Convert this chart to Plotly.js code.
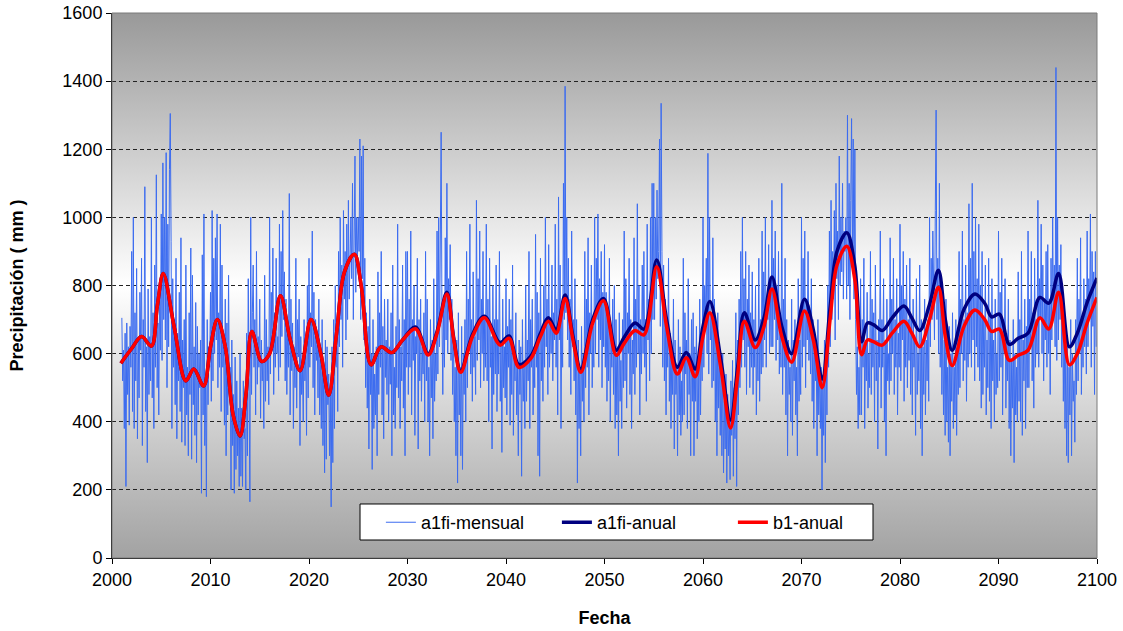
<!DOCTYPE html>
<html>
<head>
<meta charset="utf-8">
<script src="https://cdn.plot.ly/plotly-3.0.1.min.js"></script>
<style>html,body{margin:0;padding:0;background:#fff;}#chart{width:1123px;height:631px;}</style>
</head>
<body>
<div id="chart"></div>
<script>
// ---- DATA ----
const seriesNames = ["a1fi-mensual", "a1fi-anual", "b1-anual"];
const monthlyStartYear = 2001;
const a1fiMensual = [
/*2001*/ 705,520,610,380,660,210,690,480,620,390,680,560,
/*2002*/ 900,430,1000,380,720,520,850,350,640,470,780,610,
/*2003*/ 880,330,700,560,1090,430,620,280,790,480,650,520,
/*2004*/ 1000,470,720,380,860,560,1125,500,690,420,800,610,
/*2005*/ 1010,580,1160,700,1000,640,1190,500,980,620,1140,1305,
/*2006*/ 930,380,820,560,700,450,880,350,660,520,780,430,
/*2007*/ 940,340,640,500,700,330,860,420,560,300,720,480,
/*2008*/ 910,290,830,450,620,360,750,280,680,420,600,500,
/*2009*/ 640,190,890,420,1010,330,520,180,700,450,620,560,
/*2010*/ 780,460,1020,520,880,600,940,640,1010,500,720,560,
/*2011*/ 980,430,860,560,620,390,760,300,690,420,830,480,
/*2012*/ 560,200,640,330,480,190,590,260,520,300,440,210,
/*2013*/ 600,240,440,210,520,350,380,200,660,300,820,420,
/*2014*/ 165,1000,480,720,860,560,700,420,900,510,650,560,
/*2015*/ 760,410,640,520,580,380,830,460,700,520,620,450,
/*2016*/ 1000,540,780,610,910,480,720,560,880,600,650,520,
/*2017*/ 980,560,900,650,1020,700,840,520,760,480,690,560,
/*2018*/ 1070,420,760,550,690,380,620,500,880,440,700,590,
/*2019*/ 760,330,650,480,560,400,700,520,620,360,800,470,
/*2020*/ 880,560,720,620,960,500,780,420,700,580,650,470,
/*2021*/ 760,420,600,380,700,330,560,250,640,290,620,450,
/*2022*/ 540,300,480,150,620,280,700,380,800,560,680,430,
/*2023*/ 900,620,1000,700,860,560,1020,760,900,640,980,700,
/*2024*/ 1050,760,900,1000,820,1100,700,920,1180,780,1000,880,
/*2025*/ 1000,900,1230,700,1180,820,1210,640,880,500,720,440,
/*2026*/ 680,320,760,480,600,260,700,380,540,420,620,300,
/*2027*/ 840,480,720,560,900,420,680,350,760,530,640,480,
/*2028*/ 760,400,620,510,720,300,860,420,560,380,680,500,
/*2029*/ 980,470,700,380,620,520,860,440,700,300,900,560,
/*2030*/ 900,480,760,560,960,420,700,580,800,360,650,600,
/*2031*/ 880,320,700,520,760,460,620,540,720,400,900,520,
/*2032*/ 760,400,560,300,700,470,640,350,820,460,600,520,
/*2033*/ 960,540,1000,620,880,1250,700,480,760,560,940,640,
/*2034*/ 1100,600,820,700,920,580,760,480,680,400,560,300,
/*2035*/ 640,220,720,420,560,300,680,260,600,480,700,400,
/*2036*/ 900,500,760,620,980,540,700,460,840,560,650,480,
/*2037*/ 1050,580,820,640,960,500,760,600,900,520,700,560,
/*2038*/ 980,520,760,400,880,560,650,320,800,480,700,540,
/*2039*/ 860,430,700,540,900,460,640,310,760,500,620,470,
/*2040*/ 820,420,680,560,760,390,700,480,860,360,600,520,
/*2041*/ 720,420,560,300,640,480,620,240,700,460,580,380,
/*2042*/ 800,460,640,520,900,380,700,560,760,420,620,500,
/*2043*/ 950,560,780,300,720,240,880,520,680,460,800,560,
/*2044*/ 1000,620,760,480,920,560,700,600,860,520,720,640,
/*2045*/ 980,560,760,420,1060,640,860,380,720,560,1100,700,
/*2046*/ 1385,720,1000,640,880,560,760,480,960,620,700,520,
/*2047*/ 820,420,700,220,640,380,560,300,680,460,600,400,
/*2048*/ 900,500,760,560,940,420,720,600,860,500,680,560,
/*2049*/ 1000,600,880,700,1010,560,820,640,900,500,780,620,
/*2050*/ 920,560,780,460,700,520,880,400,640,560,760,480,
/*2051*/ 800,380,700,420,620,300,720,460,580,380,700,500,
/*2052*/ 960,520,820,440,720,600,880,480,700,380,640,540,
/*2053*/ 940,480,760,560,1040,600,800,420,700,540,860,600,
/*2054*/ 900,560,700,460,980,640,760,520,1000,600,1100,700,
/*2055*/ 1100,700,1000,760,1080,820,900,1230,680,1335,900,560,
/*2056*/ 860,520,760,420,700,560,880,460,660,380,620,480,
/*2057*/ 760,320,640,480,560,300,700,420,620,360,520,400,
/*2058*/ 880,420,720,540,640,380,820,480,600,300,700,460,
/*2059*/ 720,300,620,460,680,350,560,400,760,420,640,520,
/*2060*/ 1000,560,800,700,880,600,1188,540,1000,640,720,500,
/*2061*/ 940,520,760,400,680,300,720,440,600,360,560,300,
/*2062*/ 600,250,460,320,540,220,480,300,420,230,520,360,
/*2063*/ 580,240,500,350,720,210,640,420,760,500,900,560,
/*2064*/ 1000,640,820,560,900,480,760,620,860,500,720,560,
/*2065*/ 840,480,700,560,800,420,640,520,880,460,700,540,
/*2066*/ 960,560,840,640,1000,560,760,700,920,600,800,620,
/*2067*/ 1050,620,880,700,960,580,800,640,900,540,720,560,
/*2068*/ 1100,480,760,560,880,420,700,300,640,480,560,400,
/*2069*/ 760,360,640,520,700,420,560,300,820,460,640,480,
/*2070*/ 1000,560,880,620,960,500,760,640,900,580,700,540,
/*2071*/ 820,460,700,380,640,520,600,300,700,420,560,380,
/*2072*/ 560,200,520,360,640,280,600,420,800,560,960,620,
/*2073*/ 1050,700,900,760,1020,640,1100,820,960,700,1180,800,
/*2074*/ 1000,840,1100,760,960,900,1000,760,1300,800,1100,700,
/*2075*/ 1050,1290,880,1230,760,1200,700,480,620,380,560,420,
/*2076*/ 820,420,700,560,880,380,640,520,780,440,600,500,
/*2077*/ 900,480,760,560,720,400,860,520,640,320,700,560,
/*2078*/ 960,440,700,560,820,400,640,300,760,520,600,480,
/*2079*/ 940,520,760,600,880,480,700,560,820,420,660,560,
/*2080*/ 980,520,800,640,900,460,760,560,860,500,700,580,
/*2081*/ 880,480,700,420,760,560,640,360,820,480,600,520,
/*2082*/ 860,380,700,300,620,480,760,420,640,520,700,460,
/*2083*/ 1000,620,880,700,960,760,640,1020,1315,700,880,600,
/*2084*/ 1100,560,820,480,700,420,640,360,760,400,560,340,
/*2085*/ 680,300,600,460,720,380,560,420,700,360,640,480,
/*2086*/ 900,500,760,600,960,520,700,580,860,460,720,560,
/*2087*/ 1040,600,880,560,1100,640,900,520,1000,620,820,560,
/*2088*/ 980,520,800,440,900,480,700,560,860,420,640,500,
/*2089*/ 880,460,720,380,820,520,640,400,760,480,600,500,
/*2090*/ 960,520,780,560,880,420,700,600,820,440,660,520,
/*2091*/ 760,380,640,300,580,440,700,280,600,420,560,400,
/*2092*/ 840,460,700,400,900,360,640,520,760,380,680,500,
/*2093*/ 960,500,760,620,900,520,720,440,880,560,700,600,
/*2094*/ 1050,560,820,700,980,600,860,520,760,640,900,560,
/*2095*/ 920,600,760,480,880,640,1000,700,860,620,1440,580,
/*2096*/ 1000,640,860,700,920,560,780,460,700,380,600,300,
/*2097*/ 640,280,560,420,700,300,600,460,520,340,700,480,
/*2098*/ 880,520,760,600,940,480,700,560,820,620,760,540,
/*2099*/ 960,620,820,700,1010,560,900,680,840,480,900,620
];

const annualYears = [2000.9,2002.0,2003.0,2004.0,2004.6,2005.2,2006.3,2007.5,2008.3,2009.3,
 2010.0,2010.7,2011.5,2012.3,2013.0,2013.6,2014.2,2015.2,2016.0,2017.1,
 2018.1,2019.1,2020.2,2021.2,2022.0,2022.8,2023.6,2024.6,2025.3,2026.3,
 2027.3,2028.4,2029.5,2030.8,2032.1,2033.0,2034.0,2034.7,2035.4,2036.6,
 2037.8,2039.4,2040.3,2041.3,2042.5,2043.5,2044.3,2045.1,2046.0,2046.8,
 2047.6,2048.8,2049.9,2051.2,2052.0,2053.1,2054.0,2055.3,2056.3,2057.4,
 2058.3,2059.2,2060.0,2060.7,2061.8,2062.8,2063.5,2064.2,2065.3,2066.2,
 2067.0,2068.0,2069.0,2070.3,2071.2,2072.1,2072.9,2073.6,2074.6,2075.4,
 2076.1,2076.7,2077.3,2078.2,2079.2,2080.4,2081.2,2082.0,2083.0,2083.9,
 2084.6,2085.3,2086.5,2087.6,2088.6,2089.3,2090.1,2091.1,2092.0,2093.0,
 2094.2,2095.1,2096.1,2097.2,2098.0,2099.0,2100.0];
const b1Anual = [572,615,650,622,740,835,680,520,555,505,
 620,700,620,420,358,480,665,577,600,770,
 640,550,700,600,478,660,840,892,800,567,
 620,603,640,673,596,660,775,640,545,650,
 705,625,645,560,585,650,695,660,762,640,
 545,690,755,595,630,668,655,855,680,540,
 588,532,650,720,560,382,530,695,618,680,
 790,650,575,725,640,500,700,860,915,820,
 597,640,635,625,660,695,660,620,700,795,
 650,565,680,728,700,665,672,580,595,610,
 705,672,780,567,600,690,765];
const a1fiAnual = [572,615,650,622,740,835,680,520,555,505,
 620,700,620,420,358,480,665,577,600,770,
 640,550,700,600,478,660,840,892,800,567,
 620,603,640,678,600,665,780,645,550,656,
 710,632,652,568,592,660,705,670,772,650,
 555,700,762,610,648,690,672,875,700,560,
 603,555,680,753,585,405,555,720,640,705,
 825,680,600,760,670,525,735,900,955,860,
 635,690,685,668,705,740,705,668,745,845,
 700,610,730,775,748,708,716,627,645,660,
 765,748,835,620,660,750,822];

// ---- CHART ----
const monthlyX = a1fiMensual.map((_, i) => monthlyStartYear + i / 12);

const gradSvg = "<svg xmlns='http://www.w3.org/2000/svg' width='10' height='100' viewBox='0 0 10 100' preserveAspectRatio='none'>" +
  "<defs><linearGradient id='g' x1='0' y1='0' x2='0' y2='1'>" +
  "<stop offset='0' stop-color='#999999'/><stop offset='0.5' stop-color='#ffffff'/><stop offset='1' stop-color='#a2a2a2'/>" +
  "</linearGradient></defs><rect x='0' y='0' width='10' height='100' fill='url(#g)'/></svg>";
const gradUri = "data:image/svg+xml;charset=utf-8," + encodeURIComponent(gradSvg);

const FONT = "Liberation Sans, Arial, sans-serif";

const traces = [
  {x: monthlyX, y: a1fiMensual, name: seriesNames[0], type: "scatter", mode: "lines",
   line: {color: "#3c6cf0", width: 1}},
  {x: annualYears, y: a1fiAnual, name: seriesNames[1], type: "scatter", mode: "lines",
   line: {color: "#000080", width: 3.5, shape: "spline", smoothing: 1}},
  {x: annualYears, y: b1Anual, name: seriesNames[2], type: "scatter", mode: "lines",
   line: {color: "#ff0000", width: 3.5, shape: "spline", smoothing: 1}}
];

const layout = {
  width: 1123, height: 631,
  margin: {l: 112, r: 26, t: 13, b: 73},
  paper_bgcolor: "#ffffff",
  plot_bgcolor: "rgba(0,0,0,0)",
  font: {family: FONT, size: 18, color: "#000"},
  showlegend: true,
  legend: {
    orientation: "h", x: 0.273, xanchor: "left", y: 0.099, yanchor: "top",
    bgcolor: "rgba(0,0,0,0)", borderwidth: 0,
    font: {family: FONT, size: 18, color: "#000"},
    entrywidth: 131, entrywidthmode: "pixels", traceorder: "normal"
  },
  xaxis: {
    range: [2000, 2100], dtick: 10, tick0: 2000,
    showgrid: false, zeroline: false,
    showline: true, linecolor: "#000", linewidth: 1,
    ticks: "outside", ticklen: 5, tickcolor: "#000",
    tickfont: {family: FONT, size: 18, color: "#000"},
    title: {text: "Fecha", font: {family: FONT, size: 18, color: "#000", weight: "bold"}, standoff: 22}
  },
  yaxis: {
    range: [0, 1600], dtick: 200, tick0: 0,
    showgrid: true, gridcolor: "#222", gridwidth: 1, griddash: "4px,3px",
    zeroline: false,
    showline: true, linecolor: "#000", linewidth: 1,
    ticks: "outside", ticklen: 5, tickcolor: "#000",
    tickfont: {family: FONT, size: 18, color: "#000"},
    title: {text: "Precipitación ( mm )", font: {family: FONT, size: 18, color: "#000", weight: "bold"}, standoff: 34}
  },
  images: [{
    source: gradUri, xref: "paper", yref: "paper", x: 0, y: 1, sizex: 1, sizey: 1,
    xanchor: "left", yanchor: "top", sizing: "stretch", layer: "below"
  }],
  shapes: [
    {type: "rect", xref: "paper", yref: "paper", x0: 0, x1: 1, y0: 0, y1: 1,
     line: {color: "#7a7a7a", width: 1}, fillcolor: "rgba(0,0,0,0)", layer: "above"},
    {type: "rect", xref: "paper", yref: "paper", x0: 0.2518, x1: 0.7726, y0: 0.033, y1: 0.0991,
     line: {color: "#000", width: 1}, fillcolor: "#ffffff", layer: "above"}
  ]
};

Plotly.newPlot("chart", traces, layout, {displayModeBar: false, staticPlot: true});
</script>
</body>
</html>
